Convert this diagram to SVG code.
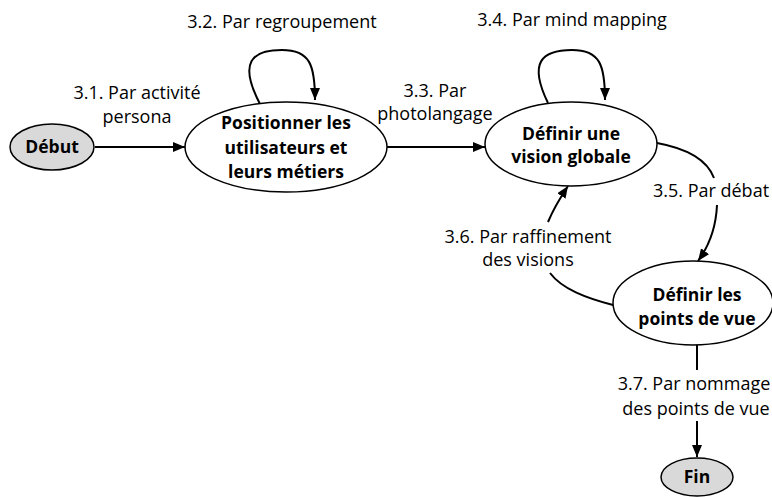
<svg xmlns="http://www.w3.org/2000/svg" width="772" height="497" viewBox="0 0 772 497">
<style>
.node{fill:#fff;stroke:#000;stroke-width:1.5}
.term{fill:#d9d9d9;stroke:#000;stroke-width:1.5}
.nt{font-family:"Open Sans","Liberation Sans",Arial,sans-serif;font-weight:bold;font-size:17.5px;text-anchor:middle;fill:#000}
.lb{font-family:"Open Sans","Liberation Sans",Arial,sans-serif;font-size:18px;text-anchor:middle;fill:#000}
.edge{fill:none;stroke:#000;stroke-width:2}
</style>
<defs>
<marker id="arr" markerUnits="userSpaceOnUse" markerWidth="14" markerHeight="12" refX="12" refY="5" orient="auto">
<path d="M0,0 L12,5 L0,10 Z" fill="#000"/>
</marker>
</defs>
<g id="connectors">
<path class="edge" d="M95,147 L185,147" marker-end="url(#arr)"/>
<path class="edge" d="M260,104 C238,62 252,50 282,50 C310,50 315,65 315,100" marker-end="url(#arr)"/>
<path class="edge" d="M387,147 L485,147" marker-end="url(#arr)"/>
<path class="edge" d="M548,103 C528,62 542,50 572,50 C600,50 605,65 605,100" marker-end="url(#arr)"/>
<path class="edge" d="M657,143 C690,149 708,162 714,178"/>
<path class="edge" d="M717,205 C716,228 709,246 698,261" marker-end="url(#arr)"/>
<path class="edge" d="M613,305 C586,298 562,289 550,273"/>
<path class="edge" d="M548,222 C553,210 560,198 568,186" marker-end="url(#arr)"/>
<path class="edge" d="M697,345 L697,370"/>
<path class="edge" d="M697,421 L697,457" marker-end="url(#arr)"/>
</g>
<g id="n-debut">
<ellipse class="term" cx="52" cy="147" rx="42" ry="23"/>
<text class="nt" x="52" y="153">Début</text>
</g>
<g id="n-positionner">
<ellipse class="node" cx="286" cy="147" rx="101" ry="45"/>
<text class="nt" x="286" y="129">Positionner les</text>
<text class="nt" x="286" y="154">utilisateurs et</text>
<text class="nt" x="286" y="178">leurs métiers</text>
</g>
<g id="n-vision">
<ellipse class="node" cx="571" cy="144" rx="86" ry="42"/>
<text class="nt" x="571" y="140">Définir une</text>
<text class="nt" x="571" y="163">vision globale</text>
</g>
<g id="n-points">
<ellipse class="node" cx="693" cy="303" rx="80" ry="42"/>
<text class="nt" x="697" y="301">Définir les</text>
<text class="nt" x="697" y="325">points de vue</text>
</g>
<g id="n-fin">
<ellipse class="term" cx="697" cy="477" rx="36" ry="19"/>
<text class="nt" x="697" y="483">Fin</text>
</g>
<g id="labels">
<text class="lb" x="137" y="99">3.1. Par activité</text>
<text class="lb" x="137" y="123">persona</text>
<text class="lb" x="282" y="28">3.2. Par regroupement</text>
<text class="lb" x="435" y="97">3.3. Par</text>
<text class="lb" x="435" y="120">photolangage</text>
<text class="lb" x="572" y="26">3.4. Par mind mapping</text>
<text class="lb" x="711" y="197">3.5. Par débat</text>
<text class="lb" x="528" y="243">3.6. Par raffinement</text>
<text class="lb" x="528" y="266">des visions</text>
<text class="lb" x="694" y="390">3.7. Par nommage</text>
<text class="lb" x="696" y="415">des points de vue</text>
</g>
</svg>
